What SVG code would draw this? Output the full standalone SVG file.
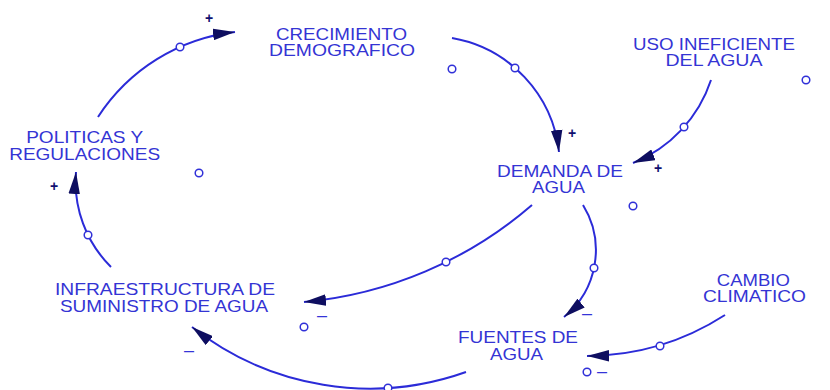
<svg xmlns="http://www.w3.org/2000/svg" width="830" height="390" viewBox="0 0 830 390">
<style>
.lbl{font-family:"Liberation Sans",Arial,sans-serif;font-size:17px;fill:#3434d4;text-anchor:middle}
.lnk{fill:none;stroke:#2b2bd8;stroke-width:2;marker-end:url(#ah)}
.hole{fill:#ffffff;stroke:#3030d8;stroke-width:1.5}
.plus{font-family:"Liberation Sans",Arial,sans-serif;font-size:14px;font-weight:bold;fill:#101070;text-anchor:middle}
.minus{font-family:"Liberation Sans",Arial,sans-serif;font-size:18px;fill:#3434d8;text-anchor:middle}
</style>
<defs>
<marker id="ah" markerUnits="userSpaceOnUse" markerWidth="22" markerHeight="12" viewBox="0 0 21 11" refX="21" refY="5.5" orient="auto">
<path d="M0,0 L21,5.5 L0,11 z" fill="#0e0e60"/>
</marker>
</defs>
<rect width="830" height="390" fill="#ffffff"/>
<g id="connectors">
<path class="lnk" d="M98,117 A189,189 0 0 1 235,32"/>
<path class="lnk" d="M452,38 A130,130 0 0 1 559,152"/>
<path class="lnk" d="M711,80 A135,135 0 0 1 633,163"/>
<path class="lnk" d="M532,205 A405,405 0 0 1 304,302"/>
<path class="lnk" d="M583,205 A86,86 0 0 1 564,317"/>
<path class="lnk" d="M725,315 A258,258 0 0 1 587,356"/>
<path class="lnk" d="M466,372 A287.5,287.5 0 0 1 192,327"/>
<path class="lnk" d="M111,267 A120,120 0 0 1 76,172"/>
<circle class="hole" cx="180" cy="47" r="3.8"/>
<circle class="hole" cx="515" cy="68" r="3.8"/>
<circle class="hole" cx="684" cy="127" r="3.8"/>
<circle class="hole" cx="446" cy="262" r="3.8"/>
<circle class="hole" cx="594" cy="268" r="3.8"/>
<circle class="hole" cx="660" cy="346" r="3.8"/>
<circle class="hole" cx="388" cy="388" r="3.8"/>
<circle class="hole" cx="88" cy="235" r="3.8"/>
</g>
<g id="polarity">
<text class="plus" x="209" y="23">+</text>
<text class="plus" x="572" y="138">+</text>
<text class="plus" x="658" y="173">+</text>
<text class="plus" x="54" y="191">+</text>
<text class="minus" x="322" y="321">–</text>
<text class="minus" x="587" y="319">–</text>
<text class="minus" x="602" y="377">–</text>
<text class="minus" x="189" y="356">–</text>
</g>
<g id="loose-markers">
<circle class="hole" cx="452" cy="69" r="3.8"/>
<circle class="hole" cx="806" cy="80" r="3.8"/>
<circle class="hole" cx="199" cy="173" r="3.8"/>
<circle class="hole" cx="633" cy="206" r="3.8"/>
<circle class="hole" cx="304" cy="327" r="3.8"/>
<circle class="hole" cx="587" cy="372" r="3.8"/>
</g>
<g id="crecimiento">
<text class="lbl" x="341.5" y="39.5" textLength="131" lengthAdjust="spacingAndGlyphs">CRECIMIENTO</text>
<text class="lbl" x="342" y="55.5" textLength="146" lengthAdjust="spacingAndGlyphs">DEMOGRAFICO</text>
</g>
<g id="uso">
<text class="lbl" x="714" y="50" textLength="162" lengthAdjust="spacingAndGlyphs">USO INEFICIENTE</text>
<text class="lbl" x="714" y="65.5" textLength="97" lengthAdjust="spacingAndGlyphs">DEL AGUA</text>
</g>
<g id="demanda">
<text class="lbl" x="560" y="177" textLength="126" lengthAdjust="spacingAndGlyphs">DEMANDA DE</text>
<text class="lbl" x="558.5" y="193" textLength="53" lengthAdjust="spacingAndGlyphs">AGUA</text>
</g>
<g id="politicas">
<text class="lbl" x="84.7" y="142.7" textLength="117" lengthAdjust="spacingAndGlyphs">POLITICAS Y</text>
<text class="lbl" x="84.7" y="160" textLength="151" lengthAdjust="spacingAndGlyphs">REGULACIONES</text>
</g>
<g id="infraestructura">
<text class="lbl" x="165" y="295" textLength="220" lengthAdjust="spacingAndGlyphs">INFRAESTRUCTURA DE</text>
<text class="lbl" x="164" y="311.5" textLength="208" lengthAdjust="spacingAndGlyphs">SUMINISTRO DE AGUA</text>
</g>
<g id="fuentes">
<text class="lbl" x="518" y="343" textLength="120" lengthAdjust="spacingAndGlyphs">FUENTES DE</text>
<text class="lbl" x="516.5" y="360" textLength="53" lengthAdjust="spacingAndGlyphs">AGUA</text>
</g>
<g id="cambio">
<text class="lbl" x="753.3" y="285.5" textLength="73" lengthAdjust="spacingAndGlyphs">CAMBIO</text>
<text class="lbl" x="754.5" y="302" textLength="103" lengthAdjust="spacingAndGlyphs">CLIMATICO</text>
</g>
</svg>
